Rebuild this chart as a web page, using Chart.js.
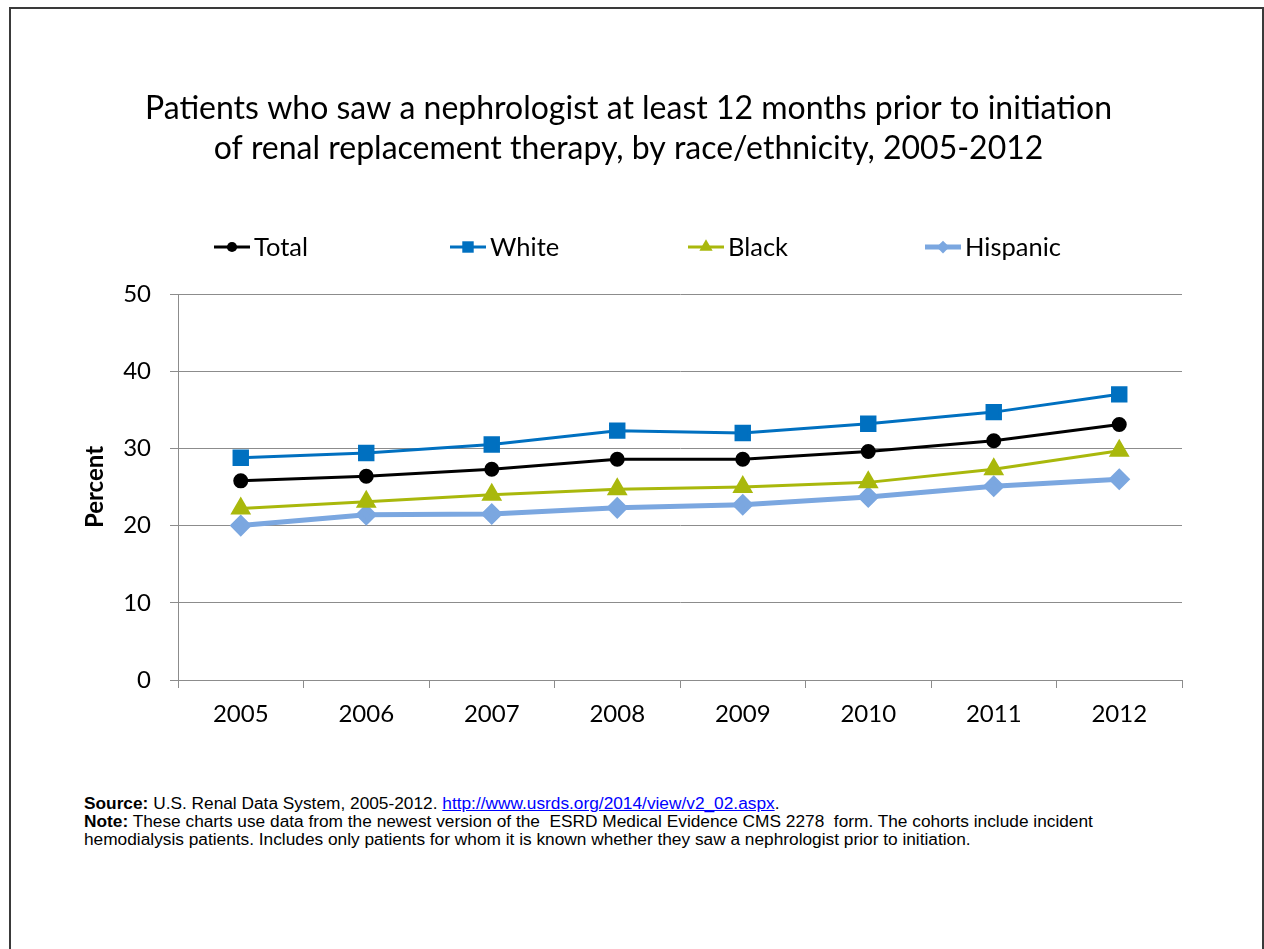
<!DOCTYPE html>
<html>
<head>
<meta charset="utf-8">
<title>Nephrologist care prior to RRT</title>
<script src="https://cdn.jsdelivr.net/npm/chart.js@4.4.0/dist/chart.umd.min.js"></script>
<style>
  body { margin: 0; background: #fff; }
  #frame { position: absolute; left: 9px; top: 7px; width: 1255px; height: 960px; box-sizing: border-box;
           border: 2px solid #3a3a3a; border-bottom: none; }
  #wrap { position: absolute; left: 0; top: 0; width: 1264px; height: 740px; }
  #notes { position: absolute; left: 84px; top: 794px; width: 1160px; color: #000;
           font-family: "Liberation Sans", Arial, sans-serif; font-size: 17.3px; line-height: 18px; }
  #notes a { color: #0000ff; }
</style>
</head>
<body>
<div id="frame"></div>
<div id="wrap"><canvas id="myChart" width="1264" height="740"></canvas></div>
<div id="notes">
  <b>Source:</b> U.S. Renal Data System, 2005-2012. <a href="http://www.usrds.org/2014/view/v2_02.aspx">http://www.usrds.org/2014/view/v2_02.aspx</a>.<br>
  <b>Note:</b> These charts use data from the newest version of the &nbsp;ESRD Medical Evidence CMS 2278 &nbsp;form. The cohorts include incident<br>
  hemodialysis patients. Includes only patients for whom it is known whether they saw a nephrologist prior to initiation.
</div>
<script>
const years = ['2005', '2006', '2007', '2008', '2009', '2010', '2011', '2012'];
const total = [25.8, 26.4, 27.3, 28.6, 28.6, 29.6, 31.0, 33.1];
const white = [28.8, 29.4, 30.5, 32.3, 32.0, 33.2, 34.7, 37.0];
const black = [22.2, 23.1, 24.0, 24.7, 25.0, 25.6, 27.3, 29.7];
const hispanic = [20.0, 21.4, 21.5, 22.3, 22.7, 23.7, 25.1, 26.0];
const yTicks = [0, 10, 20, 30, 40, 50];

const font = 'Lato, "Open Sans", sans-serif';
const grid = '#8c8c8c';

// legend in fixed slots, like the office chart
const slotLegend = {
    id: 'slotLegend',
    afterDraw(chart) {
        const ctx = chart.ctx;
        const starts = [214, 450, 688, 925];
        const y = 247;
        ctx.save();
        chart.data.datasets.forEach((ds, i) => {
            const x = starts[i];
            ctx.strokeStyle = ds.borderColor;
            ctx.lineWidth = ds.borderWidth;
            ctx.beginPath();
            ctx.moveTo(x, y);
            ctx.lineTo(x + 36, y);
            ctx.stroke();
            ctx.fillStyle = ds.pointBackgroundColor;
            Chart.helpers.drawPoint(ctx, {
                pointStyle: ds.pointStyle,
                radius: ds.pointRadius * 0.85,
                borderWidth: 0
            }, x + 18, y);
            ctx.fillStyle = '#000';
            ctx.font = '25.5px ' + font;
            ctx.textBaseline = 'middle';
            ctx.textAlign = 'left';
            ctx.fillText(ds.label, x + 40, y + 1);
        });
        ctx.restore();
    }
};

const ctx = document.getElementById('myChart');
new Chart(ctx, {
    type: 'line',
    data: {
        labels: years,
        datasets: [{
            label: 'Total',
            data: total,
            borderColor: '#000000',
            backgroundColor: '#000000',
            pointBackgroundColor: '#000000',
            borderWidth: 3,
            pointStyle: 'circle',
            pointRadius: 6
        }, {
            label: 'White',
            data: white,
            borderColor: '#0070c0',
            backgroundColor: '#0070c0',
            pointBackgroundColor: '#0070c0',
            borderWidth: 3,
            pointStyle: 'rect',
            pointRadius: 9.5
        }, {
            label: 'Black',
            data: black,
            borderColor: '#a9b80c',
            backgroundColor: '#a9b80c',
            pointBackgroundColor: '#a9b80c',
            borderWidth: 3,
            pointStyle: 'triangle',
            pointRadius: 9
        }, {
            label: 'Hispanic',
            data: hispanic,
            borderColor: '#7ba7e0',
            backgroundColor: '#7ba7e0',
            pointBackgroundColor: '#7ba7e0',
            borderWidth: 5,
            pointStyle: 'rectRot',
            pointRadius: 7.5
        }]
    },
    options: {
        responsive: false,
        animation: false,
        layout: { padding: { left: 75, right: 82, top: 0, bottom: 0 } },
        elements: {
            line: { tension: 0 },
            point: { borderWidth: 0, hoverRadius: 7 }
        },
        plugins: {
            legend: { display: false },
            tooltip: { enabled: false },
            title: {
                display: true,
                text: ['Patients who saw a nephrologist at least 12 months prior to initiation',
                       'of renal replacement therapy, by race/ethnicity, 2005-2012'],
                color: '#000',
                font: { family: font, size: 32, weight: 'normal', lineHeight: 1.25 },
                padding: { top: 89, bottom: 125 }
            }
        },
        scales: {
            x: {
                offset: true,
                grid: { drawOnChartArea: false, color: grid, tickLength: 8, offset: true },
                border: { color: grid },
                ticks: { color: '#000', font: { family: font, size: 24 }, padding: 12 },
                afterFit: s => { s.height = 60; }
            },
            y: {
                min: 0,
                max: 50,
                afterBuildTicks: s => { s.ticks = yTicks.map(v => ({ value: v })); },
                grid: { color: grid, tickLength: 8 },
                border: { color: grid },
                ticks: { color: '#000', font: { family: font, size: 24 }, padding: 19 },
                title: {
                    display: true,
                    text: 'Percent',
                    color: '#000',
                    font: { family: font, size: 24, weight: 'bold' },
                    padding: { top: 6, bottom: 0 }
                },
                afterFit: s => { s.width = 103; }
            }
        }
    },
    plugins: [slotLegend]
});
</script>
</body>
</html>
